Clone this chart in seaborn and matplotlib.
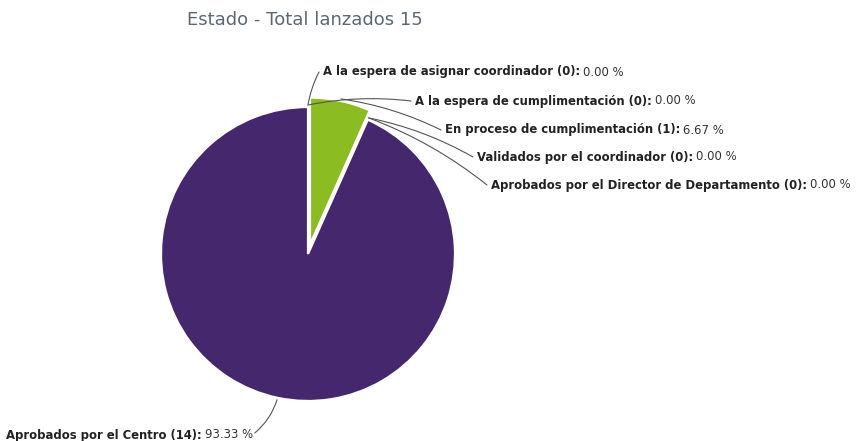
import matplotlib
matplotlib.use("Agg")
import matplotlib.pyplot as plt
import numpy as np
import seaborn as sns

# Estado de los procesos lanzados
estados = [
    "A la espera de asignar coordinador",
    "A la espera de cumplimentación",
    "En proceso de cumplimentación",
    "Validados por el coordinador",
    "Aprobados por el Director de Departamento",
    "Aprobados por el Centro",
]
cantidades = [0, 0, 1, 0, 0, 14]
colores = ["#2f7ed8", "#0d233a", "#8bbc21", "#910000", "#1aadce", "#45276d"]
separado = [0, 0, 0.065, 0, 0, 0]   # fraction of the radius

sns.set_theme(style="white")
plt.rcParams["font.family"] = ["DejaVu Sans"]

W, H = 856, 441
fig = plt.figure(figsize=(W / 100, H / 100), dpi=100)
ax = fig.add_axes([0, 0, 1, 1])
ax.set_xlim(0, W)
ax.set_ylim(0, H)
ax.set_aspect("equal")
ax.axis("off")

total = sum(cantidades)
cx, cy, r = 308, H - 254, 147

ax.pie(cantidades, colors=colores, startangle=90, counterclock=False,
       center=(cx, cy), radius=r, explode=[s * r for s in separado],
       wedgeprops=dict(edgecolor="white", linewidth=1.6))

ax.set_xlim(0, W)
ax.set_ylim(0, H)

fig.text(305 / W, 1 - 20 / H, f"Estado - Total lanzados {total}",
         ha="center", va="center", fontsize=13, color="#5b6873")

# label anchor (left edge x, centre y) in pixels from the top-left corner
etiquetas_xy = [(323, 72), (415, 101), (445, 130), (477, 157), (491, 185), (6, 435)]
fs = 8.4

renderer = fig.canvas.get_renderer()
acum = 0.0
for nombre, n, exp, (lx, ly) in zip(estados, cantidades, separado, etiquetas_xy):
    frac = n / total
    medio = (acum + frac / 2) * 360.0
    acum += frac
    th = np.deg2rad(medio)
    off = exp * r
    ex = cx + (r + off + 2) * np.sin(th)
    ey = cy + (r + off + 2) * np.cos(th)
    ty = H - ly
    bold = ax.text(lx, ty, f"{nombre} ({n}):", fontsize=fs, fontweight="bold",
                   color="#222222", ha="left", va="center")
    bb = bold.get_window_extent(renderer).transformed(ax.transData.inverted())
    val = ax.text(bb.x1 + 3, ty, f"{100 * frac:.2f} %", fontsize=fs,
                  color="#333333", ha="left", va="center")
    vb = val.get_window_extent(renderer).transformed(ax.transData.inverted())
    if lx < cx:
        end = (vb.x1 + 2, ty + 2)
        ax.annotate("", xy=(ex, ey), xytext=end,
                    arrowprops=dict(arrowstyle="-", color="#555555", lw=0.8,
                                    connectionstyle="arc3,rad=0.15",
                                    shrinkA=0, shrinkB=0))
    else:
        end = (lx - 4, ty)
        ax.annotate("", xy=end, xytext=(ex, ey),
                    arrowprops=dict(arrowstyle="-", color="#555555", lw=0.8,
                                    connectionstyle="arc3,rad=-0.08",
                                    shrinkA=0, shrinkB=0))

fig.savefig("out.png", dpi=100, facecolor="white")
